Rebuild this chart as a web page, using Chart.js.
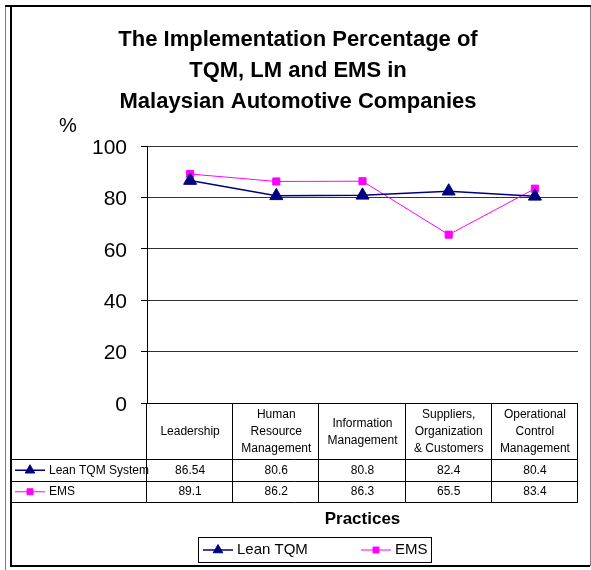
<!DOCTYPE html>
<html>
<head>
<meta charset="utf-8">
<title>Implementation Percentage of TQM, LM and EMS</title>
<script src="https://cdn.jsdelivr.net/npm/chart.js"></script>
<style>
  body { margin: 0; background: #fff; }
  #chart { display: block; }
</style>
</head>
<body>
<canvas id="chart" width="591" height="570"></canvas>
<script>
const categories = [
    ['Leadership'],
    ['Human', 'Resource', 'Management'],
    ['Information', 'Management'],
    ['Suppliers,', 'Organization', '& Customers'],
    ['Operational', 'Control', 'Management']
];
const tqmValues = [86.54, 80.6, 80.8, 82.4, 80.4];
const emsValues = [89.1, 86.2, 86.3, 65.5, 83.4];
const tableNames = ['Lean TQM System', 'EMS'];
const legendNames = ['Lean TQM', 'EMS'];
const yTicks = [0, 20, 40, 60, 80, 100];
const titleLines = ['The Implementation Percentage of', 'TQM, LM and EMS in', 'Malaysian Automotive Companies'];

const FONT = '"Liberation Sans", Arial, sans-serif';

function drawMarker(ctx, style, x, y, r, color) {
    ctx.save();
    ctx.fillStyle = color;
    ctx.strokeStyle = color;
    ctx.lineWidth = 1;
    ctx.beginPath();
    if (style === 'triangle') {
        ctx.moveTo(x, y - r);
        ctx.lineTo(x + r * 0.866, y + r / 2);
        ctx.lineTo(x - r * 0.866, y + r / 2);
        ctx.closePath();
    } else {
        const s = r * Math.SQRT1_2;
        ctx.rect(x - s, y - s, 2 * s, 2 * s);
    }
    ctx.fill();
    ctx.stroke();
    ctx.restore();
}

// little line + marker sample, used in the data table and in the legend
function drawKey(ctx, ds, x1, x2, y) {
    ctx.save();
    ctx.strokeStyle = ds.borderColor;
    ctx.lineWidth = ds.borderWidth;
    ctx.beginPath();
    ctx.moveTo(x1, y);
    ctx.lineTo(x2, y);
    ctx.stroke();
    ctx.restore();
    drawMarker(ctx, ds.pointStyle, (x1 + x2) / 2, y, ds.pointStyle === 'triangle' ? 5.5 : 4.2, ds.borderColor);
}

const tablePlugin = {
    id: 'tableAndFrame',
    afterDraw(chart) {
        const { ctx, chartArea: area, scales: { x } } = chart;
        const colWidth = (area.right - area.left) / categories.length;
        const headerBottom = area.bottom + 56;
        const rowHeight = 21.5;
        const tableBottom = headerBottom + rowHeight * 2;
        const px = v => Math.round(v) + 0.5;
        const line = (x1, y1, x2, y2) => {
            ctx.beginPath();
            ctx.moveTo(x1, y1);
            ctx.lineTo(x2, y2);
            ctx.stroke();
        };

        ctx.save();
        ctx.strokeStyle = '#000';
        ctx.lineWidth = 1;

        // data table grid
        line(area.left - 6, px(area.bottom), area.right, px(area.bottom));
        for (let r = 0; r <= 2; r++) {
            const y = px(headerBottom + r * rowHeight);
            line(11, y, area.right, y);
        }
        for (let i = 0; i <= categories.length; i++) {
            const xx = px(area.left + i * colWidth) - 1;
            line(xx, area.bottom, xx, px(tableBottom));
        }

        // table values
        ctx.fillStyle = '#000';
        ctx.font = '12px ' + FONT;
        ctx.textBaseline = 'middle';
        const series = [tqmValues, emsValues];
        series.forEach((values, s) => {
            const cy = headerBottom + rowHeight * s + rowHeight / 2 + 0.5;
            ctx.textAlign = 'center';
            values.forEach((v, i) => {
                ctx.fillText(String(v), x.getPixelForValue(i), cy);
            });
            drawKey(ctx, chart.data.datasets[s], 15, 45, cy);
            ctx.fillStyle = '#000';
            ctx.textAlign = 'left';
            ctx.fillText(tableNames[s], 49, cy);
        });

        // title
        ctx.textAlign = 'center';
        ctx.textBaseline = 'alphabetic';
        ctx.font = 'bold 22px ' + FONT;
        titleLines.forEach((t, i) => ctx.fillText(t, 298, 46 + i * 31));

        // unit label
        ctx.textAlign = 'left';
        ctx.font = '20px ' + FONT;
        ctx.fillText('%', 59, 132);

        // axis title
        ctx.textAlign = 'center';
        ctx.textBaseline = 'middle';
        ctx.font = 'bold 17px ' + FONT;
        ctx.fillText('Practices', (area.left + area.right) / 2, 519);

        // legend
        ctx.strokeRect(198.5, 537.5, 233, 25);
        const legendX = [203, 361];
        chart.data.datasets.forEach((ds, i) => {
            drawKey(ctx, ds, legendX[i], legendX[i] + 30, 550);
            ctx.fillStyle = '#000';
            ctx.textAlign = 'left';
            ctx.font = '15px ' + FONT;
            ctx.fillText(legendNames[i], legendX[i] + 34, 550);
        });

        // outer frame
        ctx.strokeStyle = '#808080';
        line(5.5, 6, 5.5, 570);
        line(590.5, 6, 590.5, 566);
        ctx.strokeStyle = '#000';
        ctx.lineWidth = 2;
        line(5, 6, 591, 6);
        line(11, 6, 11, 567);
        line(11, 566, 590, 566);
        ctx.restore();
    }
};

new Chart(document.getElementById('chart'), {
    type: 'line',
    data: {
        labels: categories,
        datasets: [{
            label: legendNames[0],
            data: tqmValues,
            borderColor: '#000080',
            backgroundColor: '#000080',
            borderWidth: 1.5,
            pointStyle: 'triangle',
            pointRadius: 7.5,
            pointBorderWidth: 1,
            tension: 0
        }, {
            label: legendNames[1],
            data: emsValues,
            borderColor: '#ff00ff',
            backgroundColor: '#ff00ff',
            borderWidth: 1,
            pointStyle: 'rect',
            pointRadius: 5,
            pointBorderWidth: 1,
            tension: 0
        }]
    },
    options: {
        responsive: false,
        animation: false,
        layout: { padding: { top: 146, right: 13, left: 0, bottom: 0 } },
        plugins: {
            legend: { display: false },
            title: { display: false },
            tooltip: { enabled: false }
        },
        scales: {
            x: {
                offset: true,
                grid: { display: false, drawTicks: false },
                border: { display: false },
                ticks: {
                    color: '#000',
                    font: { family: FONT, size: 12, lineHeight: 1.4 },
                    padding: 12,
                    crossAlign: 'center',
                    maxRotation: 0,
                    autoSkip: false
                },
                afterFit: s => { s.height = 167; s.paddingLeft = 0; s.paddingRight = 0; }
            },
            y: {
                min: 0,
                max: 100,
                afterBuildTicks: s => { s.ticks = yTicks.map(v => ({ value: v })); },
                grid: { color: '#333', lineWidth: 1, tickLength: 6, tickColor: '#000' },
                border: { display: true, color: '#000', width: 1 },
                ticks: { color: '#000', font: { family: FONT, size: 21 }, padding: 14, labelOffset: 2 },
                afterFit: s => { s.width = 147; s.paddingTop = 0; s.paddingBottom = 0; }
            }
        }
    },
    plugins: [tablePlugin]
});
</script>
</body>
</html>
